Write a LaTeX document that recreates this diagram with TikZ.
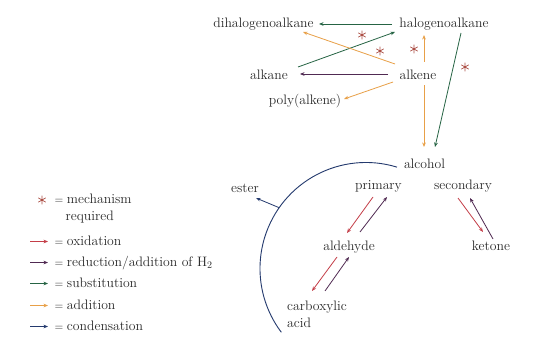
\documentclass[tikz,border=0pt]{standalone}
\usetikzlibrary{arrows.meta,calc}
\definecolor{txt}{HTML}{2A2A2A}
\definecolor{oxc}{RGB}{196,62,72}
\definecolor{redc}{RGB}{80,42,82}
\definecolor{subc}{RGB}{38,100,68}
\definecolor{addc}{RGB}{232,160,72}
\definecolor{conc}{RGB}{36,58,110}
\definecolor{astc}{RGB}{172,78,68}
\newcommand{\legeq}{{\fontsize{11.5}{12}\selectfont=}\hspace{3.5pt}}
\tikzset{
  lbl/.style={text=txt, font=\fontsize{13.7}{16}\selectfont, inner sep=0pt, anchor=base},
  arr/.style={line width=0.8pt, -{Stealth[length=4.5pt,width=3.6pt]}},
  oxid/.style={arr, draw=oxc},
  redu/.style={arr, draw=redc},
  subs/.style={arr, draw=subc},
  addn/.style={arr, draw=addc},
  cond/.style={arr, draw=conc},
  condline/.style={line width=0.9pt, draw=conc},
  astk/.style={minimum size=9pt, inner sep=0pt,
    path picture={
      \draw[astc, line width=0.7pt]
        ($(path picture bounding box.center)+(90:4.3)$) -- ($(path picture bounding box.center)+(270:4.3)$)
        ($(path picture bounding box.center)+(30:4.3)$) -- ($(path picture bounding box.center)+(210:4.3)$)
        ($(path picture bounding box.center)+(150:4.3)$) -- ($(path picture bounding box.center)+(330:4.3)$);
    }}
}
\begin{document}
\begin{tikzpicture}[x=1pt,y=-1pt]
\fill[white] (0,0) rectangle (538,337);
\useasboundingbox (0,0) rectangle (538,337);

% main nodes
\node[lbl] (dihalo) at (263.5,28) {dihalogenoalkane};
\node[lbl] (halo) at (444,28) {halogenoalkane};
\node[lbl] (alkane) at (269,79) {alkane};
\node[lbl] (alkene) at (418,79) {alkene};
\node[lbl] (poly) at (305,104) {poly(alkene)};
\node[lbl] (alcohol) at (424.5,168) {alcohol};
\node[lbl] (primary) at (378.5,189) {primary};
\node[lbl] (secondary) at (463,189) {secondary};
\node[lbl] (ester) at (245,192) {ester};
\node[lbl] (aldehyde) at (349,250) {aldehyde};
\node[lbl] (ketone) at (491,250) {ketone};
\node[lbl, anchor=base west] (carb) at (287,310) {carboxylic};
\node[lbl, anchor=base west] (acid) at (287,327) {acid};

% asterisks
\node[astk] (as1) at (362,35) {};
\node[astk] (as2) at (380,51) {};
\node[astk] (as3) at (414,49) {};
\node[astk] (as4) at (465,67) {};

% top connectors
\draw[subs] ([shift={(-52,-4)}]halo.base) -- ([shift={(55.5,-4)}]dihalo.base);
\draw[subs] ([shift={(29,-12)}]alkane.base) -- ([shift={(-49,4)}]halo.base);
\draw[redu] ([shift={(-30,-5)}]alkene.base) -- ([shift={(31,-5)}]alkane.base);
\draw[addn] ([shift={(-23,-15)}]alkene.base) -- ([shift={(39.5,4)}]dihalo.base);
\draw[addn] ([shift={(6,-17)}]alkene.base) -- ([shift={(-20,7)}]halo.base);
\draw[addn] ([shift={(-25,3)}]alkene.base) -- ([shift={(39,-5)}]poly.base);
\draw[addn] ([shift={(6,6)}]alkene.base) -- ([shift={(-0.5,-21)}]alcohol.base);
\draw[subs] ([shift={(17,5)}]halo.base) -- ([shift={(10.5,-21)}]alcohol.base);

% lower connectors
\draw[oxid] ([shift={(-5.5,8)}]primary.base) -- ([shift={(-2,-17)}]aldehyde.base);
\draw[redu] ([shift={(11,-18)}]aldehyde.base) -- ([shift={(8.5,8)}]primary.base);
\draw[oxid] ([shift={(-12,7)}]aldehyde.base) -- ([shift={(25,-19)}]carb.base west);
\draw[redu] ([shift={(38,-19)}]carb.base west) -- ([shift={(0,7)}]aldehyde.base);
\draw[oxid] ([shift={(-5,9)}]secondary.base) -- ([shift={(-8,-18)}]ketone.base);
\draw[redu] ([shift={(2,-11)}]ketone.base) -- ([shift={(7,9)}]secondary.base);

% condensation arc
\coordinate (cc) at ([shift={(-58.5,100.5)}]alcohol.base);
\draw[condline] ($(cc)+(-73:106)$) arc[start angle=-73, end angle=-217, radius=106];
\coordinate (junc) at ($(cc)+(-145:106)$);
\draw[cond] (junc) -- ([shift={(11,6)}]ester.base);

% legend
\node[astk] (lgast) at (42,200) {};
\node[lbl, anchor=base west] (lgmech) at (54.5,203) {\legeq mechanism};
\node[lbl, anchor=base west] (lgreq) at (65.5,220) {required};

\node[lbl, anchor=base west] (lgox) at (54.5,245) {\legeq oxidation};
\coordinate (ox1) at (30,241.5); \coordinate (ox2) at (48,241.5);
\draw[oxid] (ox1) -- (ox2);

\node[lbl, anchor=base west] (lgred) at (54.5,266) {\legeq reduction/addition of H$_2$};
\coordinate (rd1) at (30,262.5); \coordinate (rd2) at (48,262.5);
\draw[redu] (rd1) -- (rd2);

\node[lbl, anchor=base west] (lgsub) at (54.5,287) {\legeq substitution};
\coordinate (sb1) at (30,283.5); \coordinate (sb2) at (48,283.5);
\draw[subs] (sb1) -- (sb2);

\node[lbl, anchor=base west] (lgadd) at (54.5,309) {\legeq addition};
\coordinate (ad1) at (30,305.5); \coordinate (ad2) at (48,305.5);
\draw[addn] (ad1) -- (ad2);

\node[lbl, anchor=base west] (lgcon) at (54.5,330) {\legeq condensation};
\coordinate (cn1) at (30,326.5); \coordinate (cn2) at (48,326.5);
\draw[cond] (cn1) -- (cn2);
\end{tikzpicture}
\end{document}
